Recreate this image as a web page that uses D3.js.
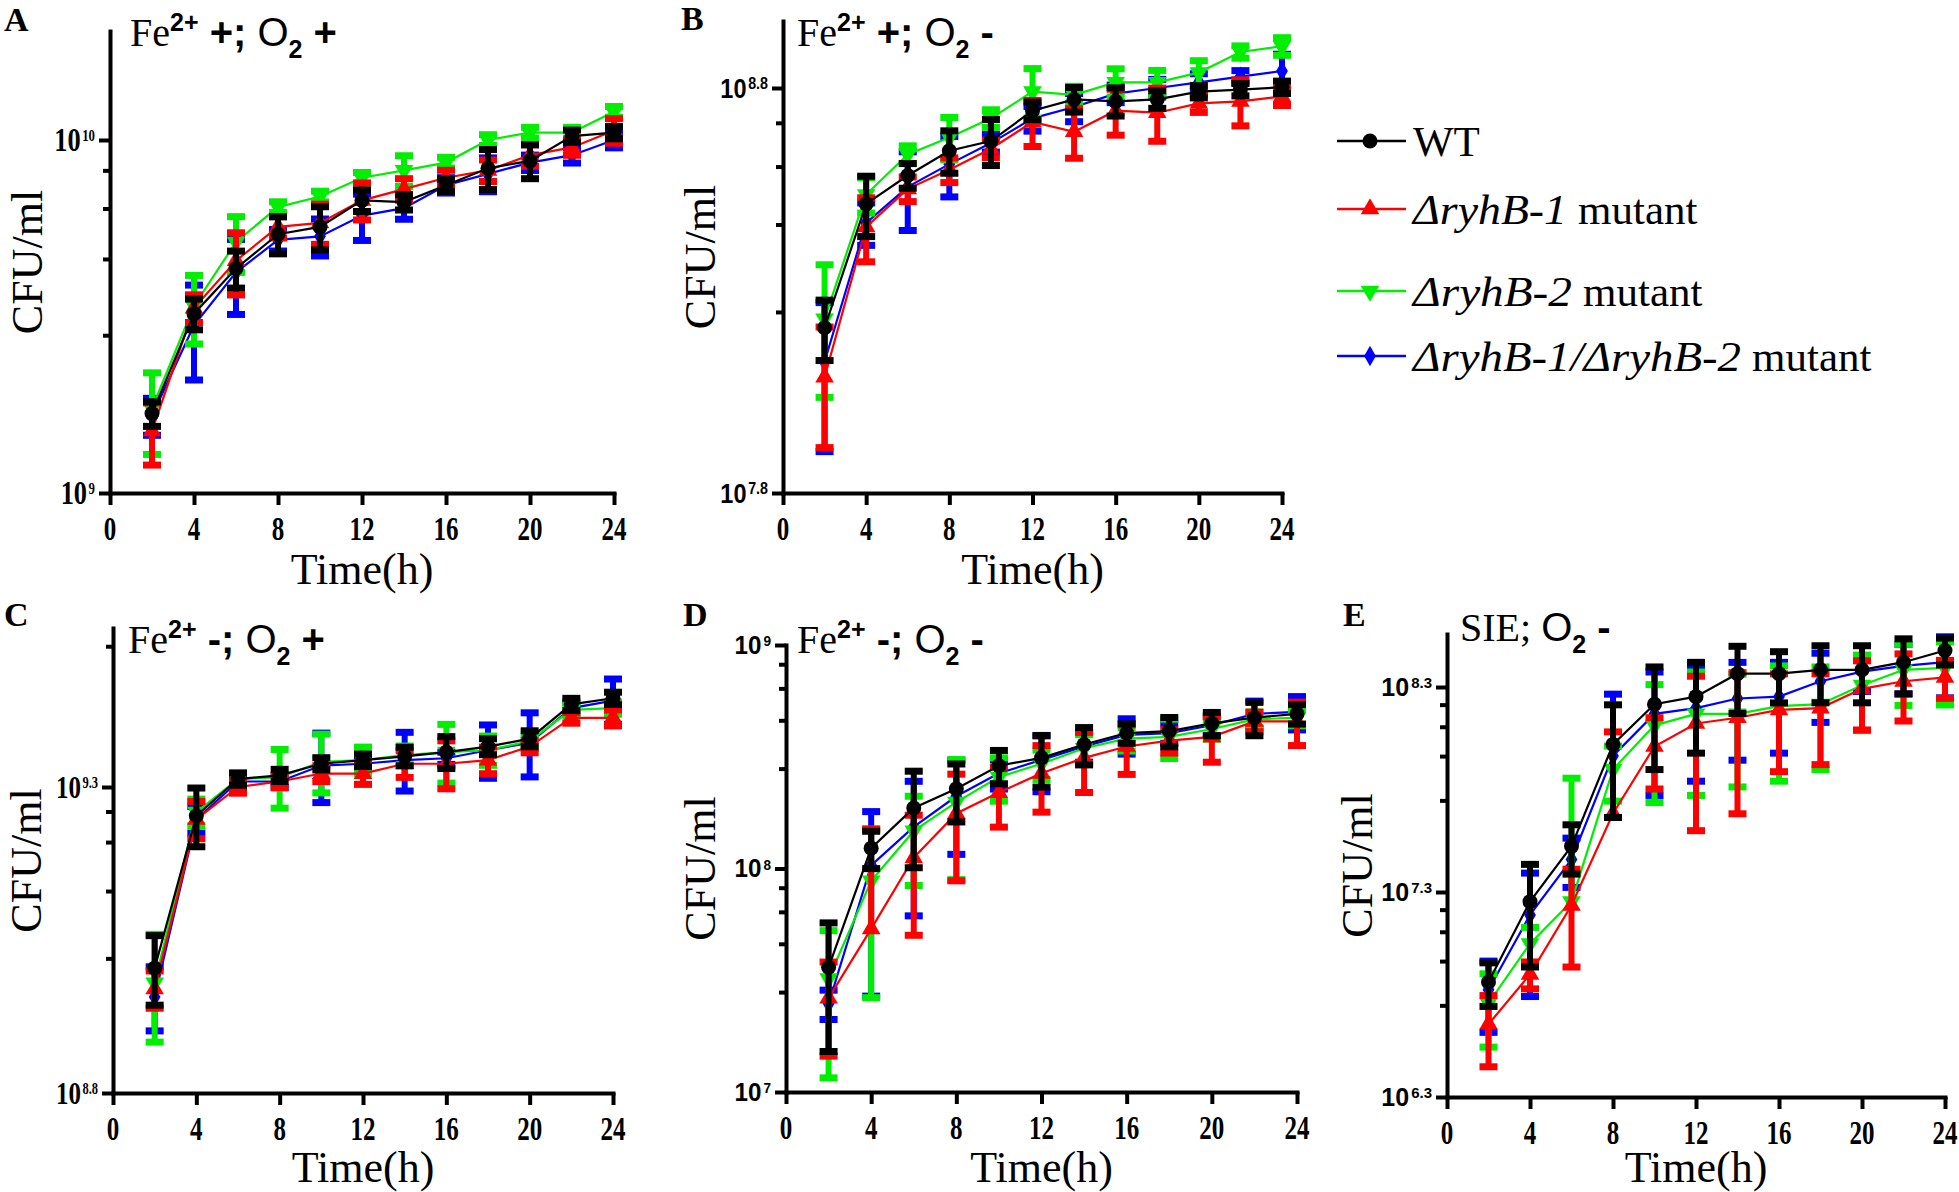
<!DOCTYPE html>
<html><head><meta charset="utf-8">
<script src="https://cdn.jsdelivr.net/npm/d3@7"></script>
<style>body{margin:0;background:#fff}svg{display:block}</style>
</head><body>
<svg id="chart" width="1959" height="1192"></svg>
<script>
// ---------------- DATA ----------------
const hours = [2,4,6,8,10,12,14,16,18,20,22,24];
const xTicks = [0,4,8,12,16,20,24];
const seriesNames = ["WT","ΔryhB-1","ΔryhB-2","ΔryhB-1/ΔryhB-2"];
const seriesColors = ["#000000","#ff0000","#00ee00","#0000ff"];

// means as log10(CFU/ml); *_cv = SD / mean
const A_WT = [9.225,9.508,9.636,9.733,9.754,9.829,9.824,9.872,9.920,9.941,10.011,10.021];
const A_WT_cv = [0.08,0.10,0.12,0.12,0.14,0.07,0.05,0.04,0.13,0.11,0.04,0.04];
const A_R1 = [9.176,9.524,9.658,9.754,9.765,9.829,9.861,9.893,9.914,9.957,9.979,10.027];
const A_R1_cv = [0.20,0.09,0.20,0.07,0.13,0.12,0.07,0.05,0.07,0.07,0.05,0.08];
const A_R2 = [9.240,9.530,9.711,9.810,9.840,9.893,9.914,9.936,10.000,10.021,10.021,10.080];
const A_R2_cv = [0.26,0.22,0.18,0.035,0.035,0.035,0.10,0.035,0.035,0.035,0.035,0.035];
const A_DM = [9.219,9.475,9.625,9.717,9.727,9.786,9.807,9.872,9.904,9.936,9.957,10.000];
const A_DM_cv = [0.12,0.30,0.24,0.07,0.12,0.15,0.07,0.05,0.11,0.05,0.05,0.05];

const B_WT = [8.208,8.514,8.584,8.645,8.669,8.744,8.772,8.767,8.772,8.791,8.796,8.802];
const B_WT_cv = [0.17,0.17,0.07,0.12,0.13,0.05,0.07,0.08,0.05,0.035,0.035,0.035];
const B_R1 = [8.086,8.457,8.551,8.598,8.650,8.716,8.692,8.744,8.739,8.762,8.767,8.779];
const B_R1_cv = [0.33,0.18,0.07,0.07,0.05,0.13,0.14,0.13,0.15,0.05,0.13,0.05];
const B_R2 = [8.230,8.537,8.636,8.678,8.725,8.791,8.783,8.814,8.814,8.838,8.889,8.903];
const B_R2_cv = [0.36,0.10,0.05,0.12,0.05,0.14,0.05,0.08,0.07,0.07,0.035,0.05];
const B_DM = [8.124,8.467,8.556,8.612,8.664,8.725,8.753,8.786,8.800,8.814,8.828,8.842];
const B_DM_cv = [0.40,0.12,0.22,0.17,0.05,0.07,0.08,0.05,0.05,0.05,0.035,0.10];

const C_WT = [9.004,9.253,9.313,9.319,9.338,9.344,9.350,9.357,9.366,9.379,9.435,9.445];
const C_WT_cv = [0.13,0.11,0.023,0.023,0.023,0.023,0.035,0.06,0.03,0.03,0.023,0.023];
const C_R1 = [8.970,9.247,9.300,9.309,9.322,9.322,9.338,9.338,9.344,9.366,9.413,9.413];
const C_R1_cv = [0.07,0.07,0.023,0.023,0.03,0.04,0.05,0.09,0.05,0.023,0.02,0.03];
const C_R2 = [8.980,9.259,9.313,9.316,9.341,9.344,9.352,9.357,9.360,9.375,9.426,9.429];
const C_R2_cv = [0.20,0.05,0.023,0.11,0.11,0.05,0.035,0.11,0.055,0.023,0.023,0.023];
const C_DM = [8.957,9.247,9.309,9.309,9.335,9.338,9.344,9.347,9.360,9.372,9.429,9.441];
const C_DM_cv = [0.12,0.05,0.023,0.023,0.13,0.023,0.11,0.023,0.10,0.12,0.023,0.085];

const D_WT = [7.558,8.091,8.271,8.357,8.460,8.495,8.555,8.606,8.615,8.649,8.675,8.692];
const D_WT_cv = [0.58,0.19,0.46,0.29,0.17,0.26,0.19,0.10,0.15,0.12,0.17,0.10];
const D_R1 = [7.420,7.730,8.048,8.246,8.340,8.426,8.495,8.546,8.572,8.589,8.658,8.658];
const D_R1_cv = [0.45,1.80,0.55,0.50,0.30,0.33,0.30,0.25,0.12,0.23,0.10,0.22];
const D_R2 = [7.507,7.945,8.168,8.297,8.409,8.469,8.538,8.581,8.589,8.624,8.667,8.675];
const D_R2_cv = [0.64,0.70,0.43,0.55,0.22,0.15,0.15,0.12,0.20,0.10,0.08,0.08];
const D_DM = [7.395,8.014,8.186,8.323,8.426,8.486,8.546,8.598,8.606,8.641,8.692,8.701];
const D_DM_cv = [0.15,0.74,0.60,0.45,0.15,0.28,0.15,0.18,0.10,0.10,0.14,0.17];

const E_WT = [6.861,7.253,7.524,8.020,8.216,8.253,8.365,8.365,8.384,8.384,8.421,8.478];
const E_WT_cv = [0.24,0.52,0.27,0.56,0.52,0.47,0.36,0.28,0.31,0.31,0.30,0.15];
const E_R1 = [6.655,6.898,7.235,7.683,8.010,8.122,8.150,8.188,8.197,8.291,8.328,8.347];
const E_R1_cv = [0.38,0.15,0.50,1.50,0.38,0.70,0.66,0.50,0.47,0.37,0.36,0.21];
const E_R2 = [6.758,7.048,7.253,7.898,8.113,8.169,8.169,8.207,8.216,8.309,8.384,8.393];
const E_R2_cv = [0.39,0.20,3.0,0.30,0.58,0.60,0.56,0.57,0.52,0.40,0.33,0.34];
const E_DM = [6.823,7.188,7.459,7.964,8.169,8.197,8.244,8.253,8.328,8.375,8.403,8.421];
const E_DM_cv = [0.38,0.60,0.27,1.00,0.60,0.56,0.50,0.47,0.37,0.20,0.27,0.33];

// y tick exponents and labels
const A_yTicks = [9,10];         const A_yLabels = ["9","10"];
const B_yTicks = [7.8,8.8];      const B_yLabels = ["7.8","8.8"];
const C_yTicks = [8.8,9.3];      const C_yLabels = ["8.8","9.3"];
const D_yTicks = [7,8,9];        const D_yLabels = ["7","8","9"];
const E_yTicks = [6.3,7.3,8.3];  const E_yLabels = ["6.3","7.3","8.3"];
const A_minor = [9.447,9.663,9.806,9.914];
const B_minor = [8.247,8.463,8.606,8.714];
const C_minor = [9.02,9.13,9.21,9.26,9.53];
const D_minor = [7.447,7.663,7.806,7.914,8.447,8.663,8.806,8.914];
const E_minor = [6.747,6.963,7.106,7.214,7.747,7.963,8.106,8.214];

// ---------------- LAYOUT / STYLE ----------------
const serif = "'Liberation Serif','Times New Roman',serif";
const sans = "'Liberation Sans',Arial,sans-serif";
const panels = [
  {id:"A", letter:[4,31], means:[A_WT,A_R1,A_R2,A_DM], cvs:[A_WT_cv,A_R1_cv,A_R2_cv,A_DM_cv],
   yTicks:A_yTicks, yLabels:A_yLabels, minor:A_minor,
   x0:110, x24:614, lo:[9,493], hi:[10,140], top:31, timeY:584,
   lab:{font:serif, size:33, sx:0.8, sup:16},
   title:{x:130, y:46, iron:"Fe", ironSup:true, fe:"+", o2:"+"}, ylab:42},
  {id:"B", letter:[681,30], means:[B_WT,B_R1,B_R2,B_DM], cvs:[B_WT_cv,B_R1_cv,B_R2_cv,B_DM_cv],
   yTicks:B_yTicks, yLabels:B_yLabels, minor:B_minor,
   x0:783, x24:1282, lo:[7.8,493], hi:[8.8,88], top:21, timeY:584,
   lab:{font:sans, size:28, sx:0.84, sup:17},
   title:{x:797, y:46, iron:"Fe", ironSup:true, fe:"+", o2:"-"}, ylab:715},
  {id:"C", letter:[4,626], means:[C_WT,C_R1,C_R2,C_DM], cvs:[C_WT_cv,C_R1_cv,C_R2_cv,C_DM_cv],
   yTicks:C_yTicks, yLabels:C_yLabels, minor:C_minor,
   x0:113, x24:613, lo:[8.8,1093], hi:[9.3,787], top:628, timeY:1182,
   lab:{font:serif, size:32, sx:0.78, sup:16},
   title:{x:128, y:653, iron:"Fe", ironSup:true, fe:"-", o2:"+"}, ylab:41},
  {id:"D", letter:[683,626], means:[D_WT,D_R1,D_R2,D_DM], cvs:[D_WT_cv,D_R1_cv,D_R2_cv,D_DM_cv],
   yTicks:D_yTicks, yLabels:D_yLabels, minor:D_minor,
   x0:786, x24:1297, lo:[7,1092], hi:[9,645], top:645, timeY:1182,
   lab:{font:sans, size:25, sx:0.97, sup:14},
   title:{x:797, y:653, iron:"Fe", ironSup:true, fe:"-", o2:"-"}, ylab:715},
  {id:"E", letter:[1343,626], means:[E_WT,E_R1,E_R2,E_DM], cvs:[E_WT_cv,E_R1_cv,E_R2_cv,E_DM_cv],
   yTicks:E_yTicks, yLabels:E_yLabels, minor:E_minor,
   x0:1447, x24:1945, lo:[6.3,1097], hi:[8.3,687], top:634, timeY:1182,
   lab:{font:sans, size:25, sx:1.0, sup:15},
   title:{x:1460, y:641, iron:"SIE", ironSup:false, fe:"", o2:"-"}, ylab:1372}
];

const svg = d3.select("#chart");
const drawOrder = [3,2,1,0];

function marker(sel, s, color) {
  if (s === 0) sel.append("circle").attr("r", 7.5).attr("fill", color);
  else if (s === 1) sel.append("path").attr("d", d3.symbol(d3.symbolTriangle, 150)()).attr("fill", color);
  else if (s === 2) sel.append("path").attr("d", d3.symbol(d3.symbolTriangle, 150)()).attr("transform","rotate(180)").attr("fill", color);
  else sel.append("path").attr("d", d3.symbol(d3.symbolDiamond, 120)()).attr("fill", color);
}

panels.forEach(p => {
  const g = svg.append("g");
  const pxDec = (p.lo[1] - p.hi[1]) / (p.hi[0] - p.lo[0]);
  const topExp = p.lo[0] + (p.lo[1] - p.top) / pxDec;
  const y = d3.scaleLog().domain([10 ** p.lo[0], 10 ** topExp]).range([p.lo[1], p.top]);
  const x = d3.scaleLinear().domain([0, 24]).range([p.x0, p.x24]);
  const yMin = 10 ** p.lo[0];

  g.append("clipPath").attr("id", "clip" + p.id).append("rect")
    .attr("x", p.x0 - 30).attr("y", p.top - 60).attr("width", p.x24 - p.x0 + 60).attr("height", p.lo[1] - p.top + 60);

  // axes
  const xa = g.append("g").attr("transform", `translate(0,${p.lo[1]})`)
    .call(d3.axisBottom(x).tickValues(xTicks).tickSize(12).tickSizeOuter(0).tickFormat(""));
  const ya = g.append("g").attr("transform", `translate(${p.x0},0)`)
    .call(d3.axisLeft(y).tickValues(p.yTicks.map(e => 10 ** e)).tickSize(11).tickSizeOuter(0).tickFormat(""));
  const ym = g.append("g").attr("transform", `translate(${p.x0},0)`)
    .call(d3.axisLeft(y).tickValues(p.minor.map(e => 10 ** e)).tickSize(7).tickSizeOuter(0).tickFormat(""));
  ym.select(".domain").remove();
  [xa, ya, ym].forEach(a => {
    a.selectAll(".domain").attr("stroke", "#000").attr("stroke-width", 4).attr("stroke-linecap", "square");
    a.selectAll(".tick line").attr("stroke", "#000").attr("stroke-width", 4);
  });

  // x tick labels
  g.selectAll(".xl").data(xTicks).enter().append("text")
    .attr("x", d => x(d) - String(d).length * 6.25).attr("y", p.lo[1] + 47)
    .attr("font-family", serif).attr("font-weight", "bold").attr("font-size", 33)
    .attr("textLength", d => String(d).length * 12.5).attr("lengthAdjust", "spacingAndGlyphs")
    .text(d => d);

  // y tick labels 10^e (single text element, condensed horizontally)
  p.yTicks.forEach((e, i) => {
    const ty = y(10 ** e);
    const right = p.x0 - 15;
    const base = ty + p.lab.size * 0.34;
    const lt = g.append("text")
      .attr("transform", `translate(${right},${base}) scale(${p.lab.sx},1)`)
      .attr("text-anchor", "end").attr("font-family", p.lab.font).attr("font-weight", "bold");
    lt.append("tspan").attr("font-size", p.lab.size).text("10");
    lt.append("tspan").attr("font-size", p.lab.sup).attr("dx", 2).attr("dy", 1 - p.lab.size * 0.34).text(p.yLabels[i]);
  });

  // axis titles
  g.append("text").attr("x", (p.x0 + p.x24) / 2).attr("y", p.timeY).attr("text-anchor", "middle")
    .attr("font-family", serif).attr("font-size", 44).text("Time(h)");
  g.append("text").attr("transform", `translate(${p.ylab},${(p.lo[1] + p.top) / 2}) rotate(-90)`)
    .attr("text-anchor", "middle").attr("font-family", serif).attr("font-size", 44).text("CFU/ml");

  // panel letter
  g.append("text").attr("x", p.letter[0]).attr("y", p.letter[1]).attr("font-family", serif)
    .attr("font-weight", "bold").attr("font-size", 34).text(p.id);

  // title
  const t = g.append("text").attr("x", p.title.x).attr("y", p.title.y).attr("font-size", 40);
  t.append("tspan").attr("font-family", serif).text(p.title.iron);
  if (p.title.ironSup) {
    t.append("tspan").attr("font-family", sans).attr("font-weight", "bold").attr("font-size", 25).attr("dy", -15).text("2+");
    t.append("tspan").attr("font-family", sans).attr("font-weight", "bold").attr("dy", 15).text(" " + p.title.fe + "; ");
  } else {
    t.append("tspan").attr("font-family", serif).text("; ");
  }
  t.append("tspan").attr("font-family", sans).text("O");
  t.append("tspan").attr("font-family", sans).attr("font-weight", "bold").attr("font-size", 25).attr("dy", 12).text("2");
  t.append("tspan").attr("font-family", sans).attr("font-weight", "bold").attr("dy", -12).text(" " + p.title.o2);

  // data
  const dg = g.append("g").attr("clip-path", `url(#clip${p.id})`);
  drawOrder.forEach(s => {
    const color = seriesColors[s];
    const pts = hours.map((h, i) => {
      const m = 10 ** p.means[s][i];
      const sd = m * p.cvs[s][i];
      return {h, m, up: m + sd, lo: m - sd};
    });
    const sg = dg.append("g");
    pts.forEach(d => {
      const cx = x(d.h);
      sg.append("line").attr("x1", cx).attr("x2", cx).attr("y1", y(d.m)).attr("y2", y(d.up))
        .attr("stroke", color).attr("stroke-width", 6);
      sg.append("line").attr("x1", cx - 9).attr("x2", cx + 9).attr("y1", y(d.up)).attr("y2", y(d.up))
        .attr("stroke", color).attr("stroke-width", 7);
      if (d.lo > 1e-9 * d.m) {
        const yl = d.lo > yMin ? y(d.lo) : y(yMin) + 40;
        sg.append("line").attr("x1", cx).attr("x2", cx).attr("y1", y(d.m)).attr("y2", yl)
          .attr("stroke", color).attr("stroke-width", 6);
        if (d.lo > yMin)
          sg.append("line").attr("x1", cx - 9).attr("x2", cx + 9).attr("y1", yl).attr("y2", yl)
            .attr("stroke", color).attr("stroke-width", 7);
      }
    });
    sg.append("path").datum(pts)
      .attr("d", d3.line().x(d => x(d.h)).y(d => y(d.m)))
      .attr("fill", "none").attr("stroke", color).attr("stroke-width", 2.2);
    pts.forEach(d => {
      const mg = sg.append("g").attr("transform", `translate(${x(d.h)},${y(d.m)})`);
      marker(mg, s, color);
    });
  });
});

// legend
const legRows = [141, 209, 291, 356];
const legItalicW = [0, 154, 159, 328];
const lg = svg.append("g");
seriesNames.forEach((name, s) => {
  const yy = legRows[s];
  lg.append("line").attr("x1", 1337).attr("x2", 1406).attr("y1", yy).attr("y2", yy)
    .attr("stroke", seriesColors[s]).attr("stroke-width", 2.5);
  const mg = lg.append("g").attr("transform", `translate(1370,${yy})`);
  marker(mg, s, seriesColors[s]);
  if (s === 0) {
    lg.append("text").attr("x", 1413).attr("y", yy + 15).attr("font-family", serif).attr("font-size", 43).text(name);
  } else {
    lg.append("text").attr("x", 1413).attr("y", yy + 15).attr("font-family", serif).attr("font-size", 43)
      .attr("font-style", "italic").attr("textLength", legItalicW[s]).attr("lengthAdjust", "spacingAndGlyphs").text(name);
    lg.append("text").attr("x", 1413 + legItalicW[s] + 11).attr("y", yy + 15).attr("font-family", serif).attr("font-size", 43)
      .text("mutant");
  }
});
</script>
</body></html>
